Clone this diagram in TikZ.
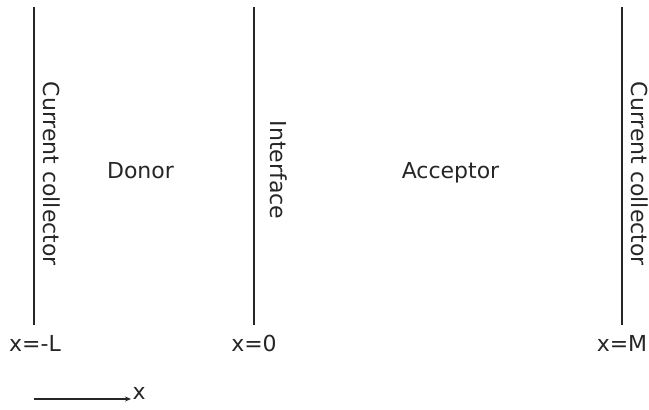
\documentclass[tikz,border=0pt]{standalone}
\usepackage{fontspec}
\setmainfont{DejaVu Sans}
\usetikzlibrary{arrows.meta}
\begin{document}
\begin{tikzpicture}[x=1pt,y=-1pt,
  wall/.style={line width=1.6pt, black!85},
  lbl/.style={inner sep=0pt, font=\fontsize{22}{26}\selectfont, text=black!85},
  vlbl/.style={lbl, rotate=-90, anchor=base west},
  axis/.style={line width=2.2pt, black!85, -{Stealth[length=6pt,width=5pt]}}]
\useasboundingbox (0,0) rectangle (649,410);
% walls
\draw[wall] (34,7) -- (34,325);
\draw[wall] (254,7) -- (254,325);
\draw[wall] (622,7) -- (622,325);
% rotated labels
\node[vlbl] (ccl) at (43,81.5) {Current collector};
\node[vlbl] (itf) at (270.5,120.5) {Interface};
\node[vlbl] (ccr) at (631.5,81.5) {Current collector};
% region labels
\node[lbl, anchor=base] (don) at (140.5,178.5) {Donor};
\node[lbl, anchor=base] (acc) at (450.5,178.5) {Acceptor};
% positions
\node[lbl, anchor=base] (xl) at (35,351) {x=-L};
\node[lbl, anchor=base] (x0) at (254,351) {x=0};
\node[lbl, anchor=base] (xm) at (622,351) {x=M};
% axis
\coordinate (a0) at (34,399);
\coordinate (a1) at (131,399);
\draw[axis] (a0) -- (a1);
\node[lbl, anchor=base west] (xx) at (132.5,399) {x};
\end{tikzpicture}
\end{document}
